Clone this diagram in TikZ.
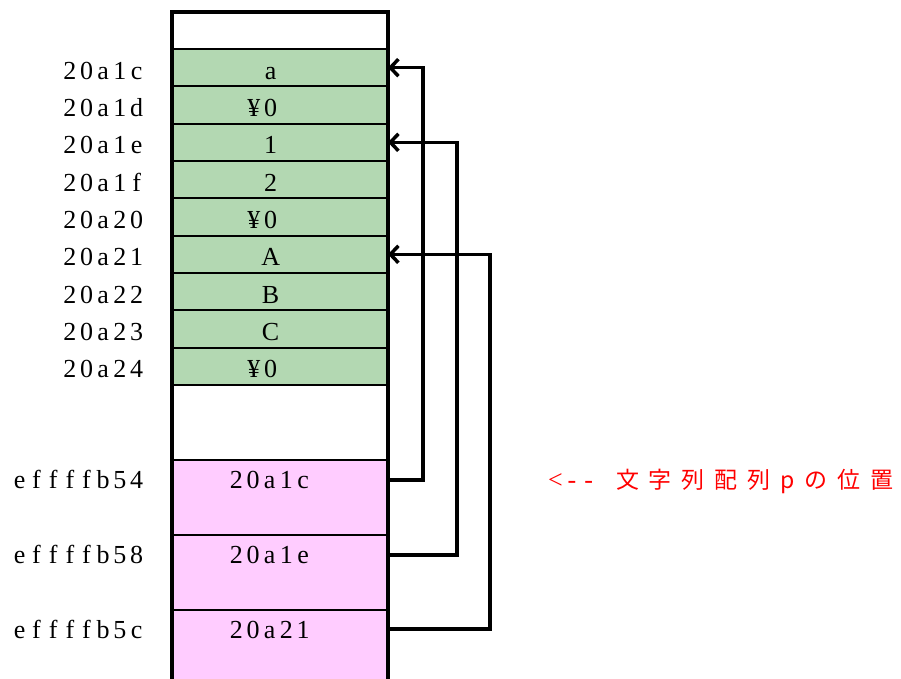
\documentclass[tikz,border=0pt]{standalone}
\usepackage{fontspec}
\setmainfont{Liberation Serif}
\newfontfamily\jp{Noto Sans CJK JP}[LetterSpace=43]
\usetikzlibrary{arrows.meta}
\definecolor{memgreen}{RGB}{179,216,178}
\definecolor{mempink}{RGB}{255,204,255}
\definecolor{notered}{RGB}{255,0,0}
% fixed-pitch setting: every character in a cell of equal width
\newcommand\mchars[1]{\expandafter\mcharloop#1\relax}
\def\mcharloop#1{\ifx\relax#1\else\makebox[16.7pt]{#1}\expandafter\mcharloop\fi}
\begin{document}
\begin{tikzpicture}[x=1pt,y=-1pt,
  txt/.style={inner sep=0pt, outer sep=0pt, font=\fontsize{26}{30}\selectfont},
  cellbox/.style={draw=black, line width=2pt, minimum width=216pt, inner sep=0pt, outer sep=0pt},
  greenrow/.style={cellbox, fill=memgreen, minimum height=37.33pt},
  pinkrow/.style={cellbox, fill=mempink, minimum height=75pt},
  addr/.style={txt, anchor=base east},
  boxline/.style={line width=4pt},
  ptr/.style={line width=3.5pt, -{Straight Barb[length=8pt,width=17pt]}}
]
\useasboundingbox (0,0) rectangle (901,679);
% green rows
\foreach \i/\v/\a in {0/a/20a1c,1/¥0/20a1d,2/1/20a1e,3/2/20a1f,4/¥0/20a20,5/A/20a21,6/B/20a22,7/C/20a23,8/¥0/20a24}{
  \node[greenrow] (g\i) at (280,{49+37.33*(\i+0.5)}) {};
  \node[txt, anchor=base east] (gt\i) at (279,{49+37.33*(\i+0.5)+11.5}) {\mchars{\v}};
  \node[addr] (ga\i) at (145,{49+37.33*(\i+0.5)+11.5}) {\mchars{\a}};
}
% pink rows
\foreach \i/\v/\a/\y in {1/20a1c/effffb54/460,2/20a1e/effffb58/535,3/20a21/effffb5c/610}{
  \node[pinkrow] (p\i) at (280,\y+37.5) {};
  \node[txt, anchor=base west] (pt\i) at (228,\y+28) {\mchars{\v}};
  \node[addr] (pa\i) at (145,\y+28) {\mchars{\a}};
}
% outer box
\draw[boxline] (172,685) -- (172,12) -- (388,12) -- (388,685);
% pointer bends
\coordinate (k1) at (423,0);
\coordinate (k2) at (457,0);
\coordinate (k3) at (490,0);
\draw[ptr] (p1.north east) ++(0,20) -| (k1 |- g0.east) -- (g0.east);
\draw[ptr] (p2.north east) ++(0,20) -| (k2 |- g2.east) -- (g2.east);
\draw[ptr] (p3.north east) ++(0,19) -| (k3 |- g5.east) -- (g5.east);
% note
\node[txt, anchor=base west, text=notered] (note) at (547,488) {\mchars{<--}\hspace{19pt}{\jp\fontsize{23}{28}\selectfont 文字列配列pの位置}};
\end{tikzpicture}
\end{document}
